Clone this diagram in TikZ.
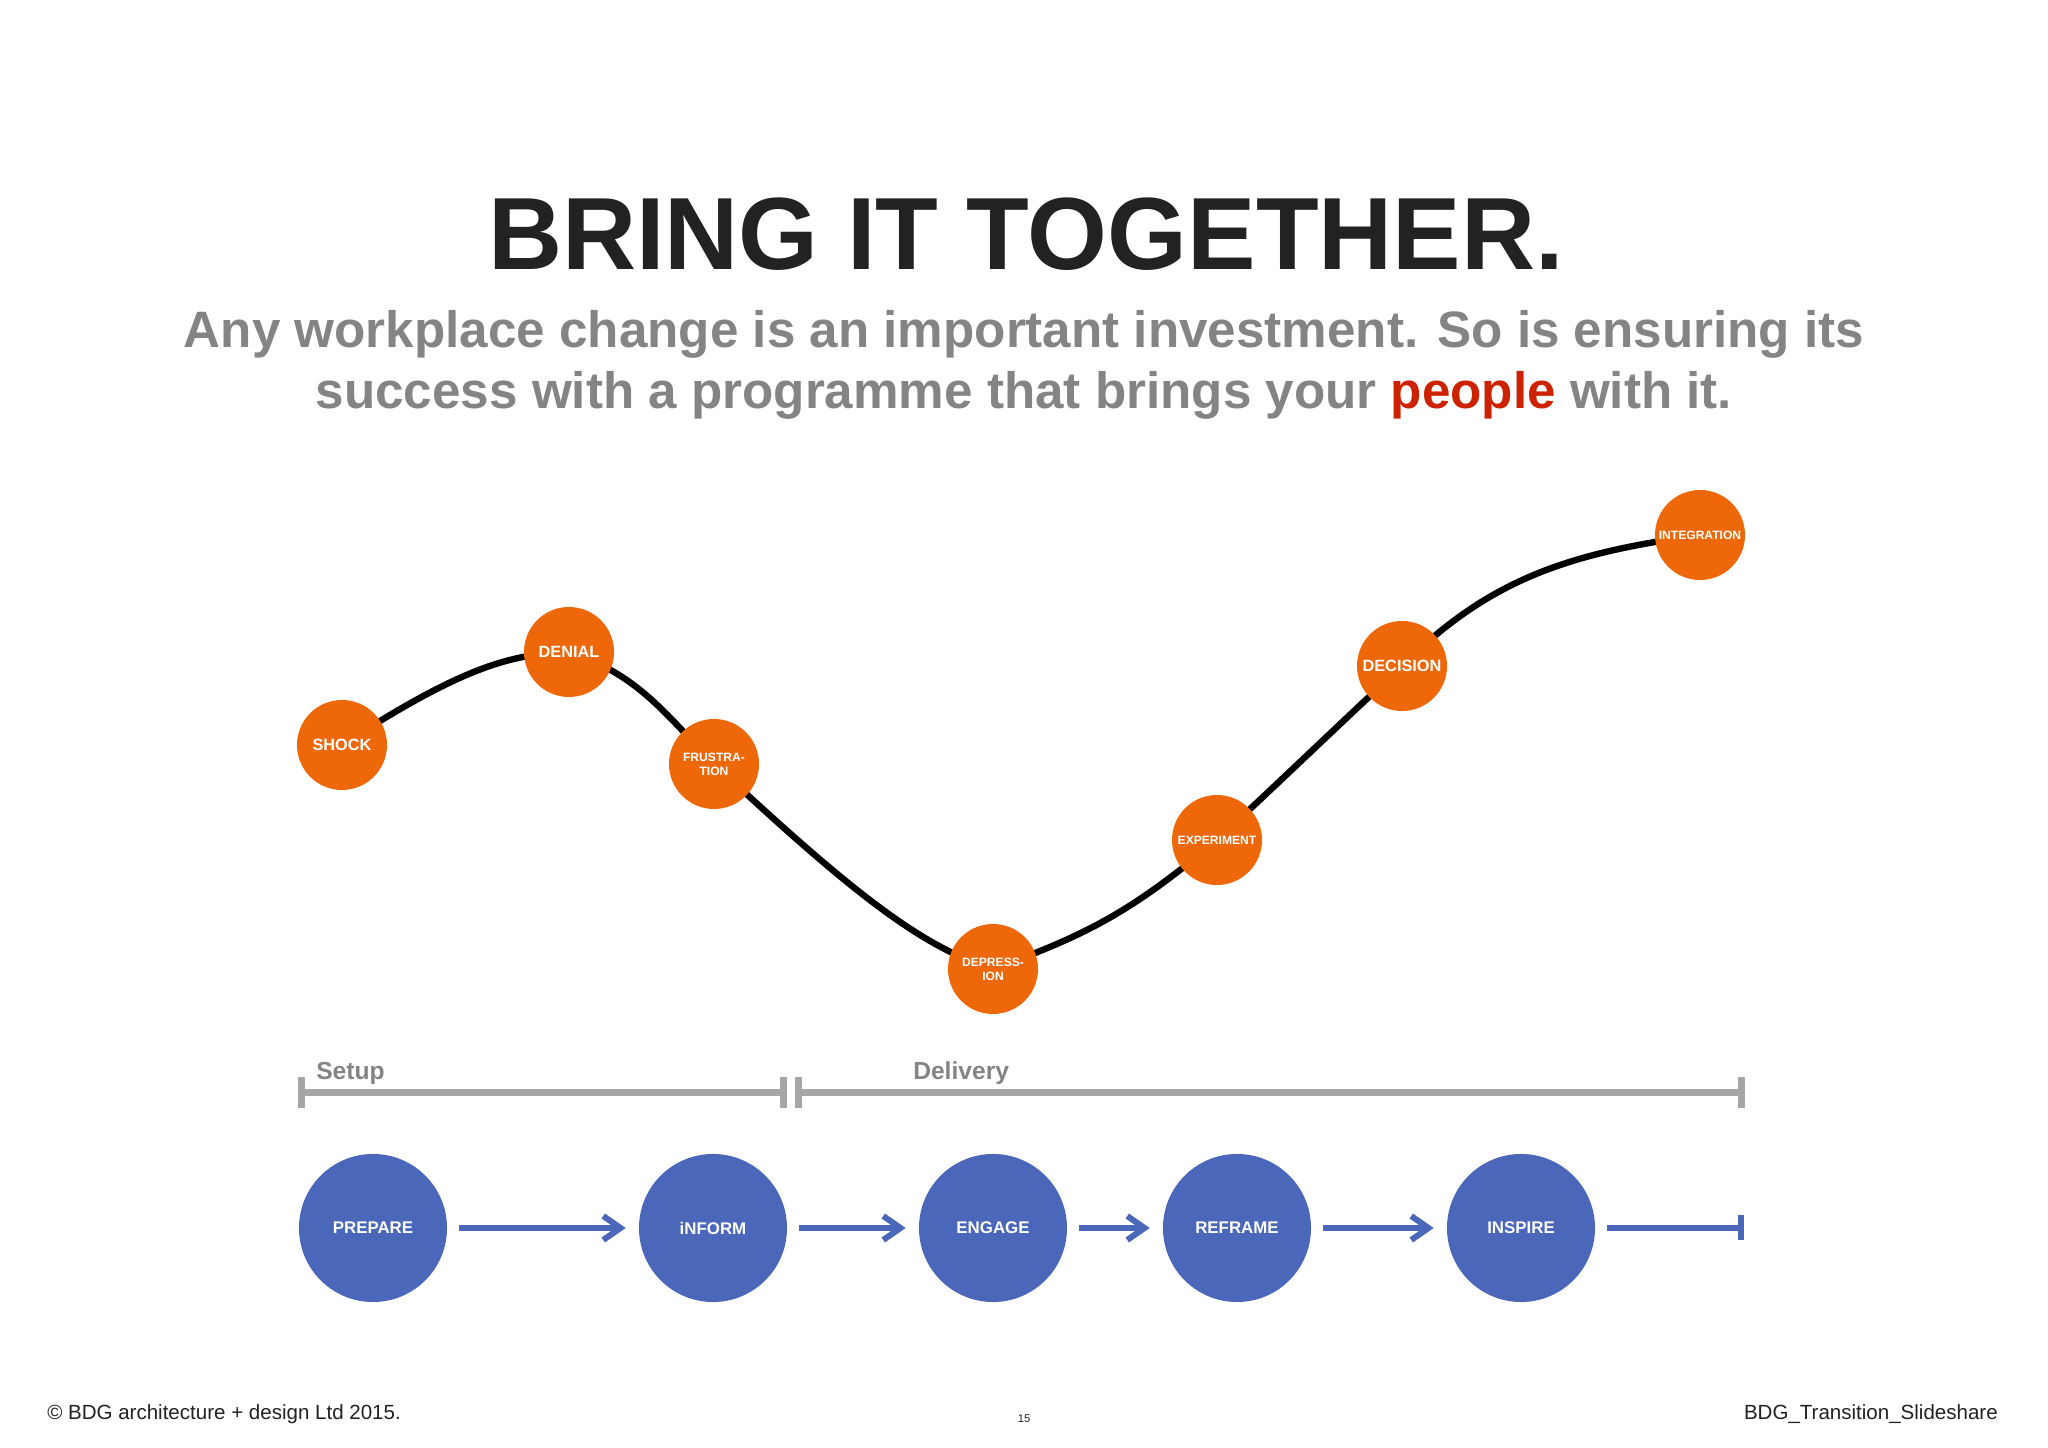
\documentclass[tikz,border=0pt]{standalone}
\usepackage{fontspec}
\setmainfont{Liberation Sans}
\usetikzlibrary{arrows.meta}
\usetikzlibrary{backgrounds}
\definecolor{stageorange}{RGB}{238,104,10}
\definecolor{stepblue}{RGB}{74,103,186}
\definecolor{spangray}{RGB}{166,166,166}
\definecolor{textgray}{RGB}{132,132,132}
\definecolor{peoplered}{RGB}{204,34,0}
\definecolor{titleblack}{RGB}{34,34,34}
\tikzset{
  stagenode/.style={shape=circle,fill=stageorange,text=white,inner sep=0pt,minimum size=2.25cm,font=\bfseries\fontsize{11.6}{13}\selectfont},
  stagesmall/.style={stagenode,align=center,font=\bfseries\fontsize{8.6}{10}\selectfont},
  stepnode/.style={shape=circle,fill=stepblue,text=white,inner sep=0pt,minimum size=3.7cm,font=\bfseries\fontsize{12}{14}\selectfont},
  wavecurve/.style={black,line width=0.16cm,line cap=round},
  stepflow/.style={stepblue,line width=0.15cm,shorten <=0.3cm,shorten >=0.325cm,-{Straight Barb[length=0.43cm,width=0.6cm]}},
  stepend/.style={stepblue,line width=0.15cm,shorten <=0.3cm,-{Bar[width=0.625cm]}},
  spanbar/.style={spangray,line width=0.175cm,{Bar[width=0.775cm]}-{Bar[width=0.775cm]}},
  spanlabel/.style={anchor=base west,inner sep=0pt,text=textgray,font=\bfseries\fontsize{17.5}{20}\selectfont},
  footnote/.style={inner sep=0pt,text=titleblack,font=\fontsize{14.6}{17}\selectfont}
}

\begin{document}
\begin{tikzpicture}[x=0.025cm,y=0.025cm]
        \useasboundingbox (0,0) rectangle (2048,1448);

        % heading
        \node[anchor=base,inner sep=0pt,text=titleblack,font=\bfseries\fontsize{73}{80}\selectfont] (title) at (1026,1178) {BRING IT TOGETHER.};
        \node[anchor=base,inner sep=0pt,text=textgray,font=\bfseries\fontsize{36.4}{44}\selectfont] (sub1) at (1024,1100) {Any workplace change is an important investment. So is ensuring its};
        \node[anchor=base,inner sep=0pt,text=textgray,font=\bfseries\fontsize{36.4}{44}\selectfont] (sub2) at (1024,1039) {success with a programme that brings your \textcolor{peoplered}{people} with it.};

        % change curve
        \node[stagenode] (shock) at (342,703) {SHOCK};
        \node[stagenode] (denial) at (569,796) {DENIAL};
        \node[stagesmall] (frustration) at (714,684) {FRUSTRA-\\TION};
        \node[stagesmall] (depression) at (993,479) {DEPRESS-\\ION};
        \node[stagesmall] (experiment) at (1217,608) {EXPERIMENT};
        \node[stagenode] (decision) at (1402,782) {DECISION};
        \node[stagesmall] (integration) at (1700,913) {INTEGRATION};

        \begin{scope}[on background layer]
            \fill[white] (0,0) rectangle (2048,1448);
            \draw[wavecurve] (shock.center) to[out=33,in=182,out looseness=1.5,in looseness=0.6] (denial.center)
                to[out=-18,in=134] (frustration.center)
                to[out=-43,in=163,out looseness=1.4,in looseness=0.55] (depression.center)
                to[out=20,in=-140,in looseness=1.1] (experiment.center)
                to[out=43,in=-137] (decision.center)
                to[out=45,in=188] (integration.center);
        \end{scope}

        % setup / delivery
        \coordinate (setupL) at (298,355);
        \coordinate (setupR) at (787,355);
        \coordinate (delivL) at (795,355);
        \coordinate (delivR) at (1745,355);
        \draw[spanbar] (setupL) -- (setupR);
        \draw[spanbar] (delivL) -- (delivR);
        \node[spanlabel] (setup) at (316,368) {Setup};
        \node[spanlabel] (delivery) at (913,368) {Delivery};

        % steps
        \node[stepnode] (prepare) at (373,220) {PREPARE};
        \node[stepnode] (inform) at (713,220) {iNFORM};
        \node[stepnode] (engage) at (993,220) {ENGAGE};
        \node[stepnode] (reframe) at (1237,220) {REFRAME};
        \node[stepnode] (inspire) at (1521,220) {INSPIRE};
        \coordinate (stepstop) at (1744,220);
        \draw[stepflow] (prepare) -- (inform);
        \draw[stepflow] (inform) -- (engage);
        \draw[stepflow] (engage) -- (reframe);
        \draw[stepflow] (reframe) -- (inspire);
        \draw[stepend] (inspire) -- (stepstop);

        % footer
        \node[footnote,anchor=base west] (copyright) at (47,28) {© BDG architecture + design Ltd 2015.};
        \node[footnote,anchor=base,font=\fontsize{8}{10}\selectfont] (pageno) at (1024,25) {15};
        \node[footnote,anchor=base east] (deck) at (1998,28) {BDG\_Transition\_Slideshare};
    \end{tikzpicture}
\end{document}
